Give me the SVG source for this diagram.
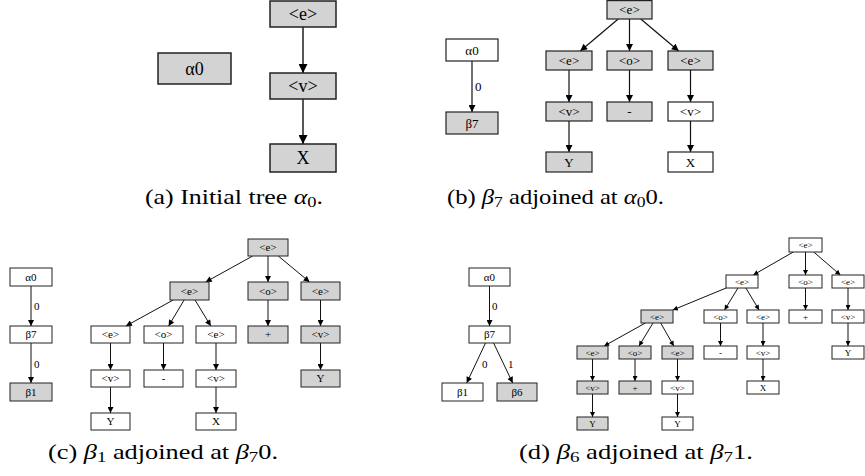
<svg xmlns="http://www.w3.org/2000/svg" width="865" height="476" viewBox="0 0 865 476">
<style>
rect{stroke:#222}
.g{fill:#d3d3d3}
.w{fill:#fff}
.sa rect{stroke-width:1.5}
.sb rect{stroke-width:1.2}
.sc rect,.sd rect{stroke-width:1}
text{font-family:"Liberation Serif","Times New Roman",serif;fill:#000;text-anchor:middle}
.ta{font-size:18px}
.tb{font-size:13px}
.tc{font-size:11px}
.td{font-size:9px}
.lbl{text-anchor:start}
.cap{font-size:21px;text-anchor:start}
.e line{stroke:#111;fill:none}
.ea line{stroke-width:1.4;marker-end:url(#ma)}
.eb line{stroke-width:1.2;marker-end:url(#mb)}
.ec line{stroke-width:1;marker-end:url(#mc)}
.ed line{stroke-width:1;marker-end:url(#md)}
</style>
<defs>
<marker id="ma" viewBox="0 0 10 10" refX="10" refY="5" markerUnits="userSpaceOnUse" markerWidth="12" markerHeight="9" orient="auto"><path d="M0,0L10,5L0,10z" fill="#000"/></marker>
<marker id="mb" viewBox="0 0 10 10" refX="10" refY="5" markerUnits="userSpaceOnUse" markerWidth="10" markerHeight="7" orient="auto"><path d="M0,0L10,5L0,10z" fill="#000"/></marker>
<marker id="mc" viewBox="0 0 10 10" refX="10" refY="5" markerUnits="userSpaceOnUse" markerWidth="8" markerHeight="6" orient="auto"><path d="M0,0L10,5L0,10z" fill="#000"/></marker>
<marker id="md" viewBox="0 0 10 10" refX="10" refY="5" markerUnits="userSpaceOnUse" markerWidth="6.5" markerHeight="5" orient="auto"><path d="M0,0L10,5L0,10z" fill="#000"/></marker>
</defs>

<!-- connectors -->
<g id="connectors" class="e">
 <g class="ea">
  <line x1="303" y1="27" x2="303" y2="73"/>
  <line x1="303" y1="99" x2="303" y2="144"/>
 </g>
 <g class="eb">
  <line x1="472" y1="61" x2="472" y2="112"/>
  <line x1="618.2" y1="19" x2="580.3" y2="51"/>
  <line x1="629.5" y1="19" x2="629.5" y2="51"/>
  <line x1="640.8" y1="19" x2="678.7" y2="51"/>
  <line x1="569" y1="70" x2="569" y2="102"/>
  <line x1="569" y1="121" x2="569" y2="152"/>
  <line x1="629.5" y1="70" x2="629.5" y2="102"/>
  <line x1="690.5" y1="70" x2="690.5" y2="102"/>
  <line x1="690.5" y1="121" x2="690.5" y2="152"/>
 </g>
 <g class="ec">
  <line x1="31" y1="286" x2="31" y2="326"/>
  <line x1="31" y1="343" x2="31" y2="383"/>
  <line x1="252.7" y1="256" x2="205.7" y2="282"/>
  <line x1="268" y1="256" x2="268" y2="282"/>
  <line x1="278.3" y1="256" x2="309.6" y2="282"/>
  <line x1="268" y1="300" x2="268" y2="326"/>
  <line x1="320.5" y1="300" x2="320.5" y2="326"/>
  <line x1="320.5" y1="343" x2="320.5" y2="370"/>
  <line x1="173.2" y1="300" x2="125.9" y2="326"/>
  <line x1="184.1" y1="300" x2="168.6" y2="326"/>
  <line x1="195" y1="300" x2="210.8" y2="326"/>
  <line x1="110.5" y1="343" x2="110.5" y2="370"/>
  <line x1="110.5" y1="387" x2="110.5" y2="413"/>
  <line x1="163.5" y1="343" x2="163.5" y2="370"/>
  <line x1="216" y1="343" x2="216" y2="370"/>
  <line x1="216" y1="387" x2="216" y2="413"/>
  <line x1="489.5" y1="286" x2="489.5" y2="326"/>
  <line x1="485.5" y1="343" x2="466.7" y2="383"/>
  <line x1="493.6" y1="343" x2="512.7" y2="383"/>
 </g>
 <g class="ed">
  <line x1="793.3" y1="252" x2="753.3" y2="275"/>
  <line x1="805.5" y1="252" x2="805.5" y2="275"/>
  <line x1="813.7" y1="252" x2="840.4" y2="275"/>
  <line x1="726.2" y1="288" x2="672.8" y2="310"/>
  <line x1="738" y1="288" x2="724.5" y2="310"/>
  <line x1="745.9" y1="288" x2="759.1" y2="310"/>
  <line x1="805.5" y1="288" x2="805.5" y2="310"/>
  <line x1="848" y1="288" x2="848" y2="310"/>
  <line x1="848" y1="323" x2="848" y2="346"/>
  <line x1="720.5" y1="323" x2="720.5" y2="346"/>
  <line x1="763" y1="323" x2="763" y2="346"/>
  <line x1="763" y1="359" x2="763" y2="381"/>
  <line x1="645.4" y1="323" x2="604.1" y2="346"/>
  <line x1="653" y1="323" x2="639" y2="346"/>
  <line x1="660.7" y1="323" x2="673.8" y2="346"/>
  <line x1="592.5" y1="359" x2="592.5" y2="381"/>
  <line x1="592.5" y1="394" x2="592.5" y2="417"/>
  <line x1="635" y1="359" x2="635" y2="381"/>
  <line x1="677.5" y1="359" x2="677.5" y2="381"/>
  <line x1="677.5" y1="394" x2="677.5" y2="417"/>
 </g>
 <text class="tb lbl" x="475" y="91">0</text>
 <text class="tc lbl" x="34" y="310">0</text>
 <text class="tc lbl" x="34" y="368">0</text>
 <text class="tc lbl" x="492" y="310">0</text>
 <text class="tc lbl" x="482" y="368">0</text>
 <text class="tc lbl" x="508" y="368">1</text>
</g>

<!-- panel a -->
<g class="sa">
 <g id="a_alpha0"><rect class="g" x="158" y="53" width="73" height="31"/><text class="ta" x="194.5" y="74.8">α0</text></g>
 <g id="a_e"><rect class="g" x="270" y="1" width="66" height="26"/><text class="ta" x="303" y="20.3">&lt;e&gt;</text></g>
 <g id="a_v"><rect class="g" x="270" y="73" width="66" height="26"/><text class="ta" x="303" y="92.3">&lt;v&gt;</text></g>
 <g id="a_X"><rect class="g" x="270" y="144" width="66" height="28"/><text class="ta" x="303" y="164.3">X</text></g>
</g>

<!-- panel b -->
<g class="sb">
 <g id="b_alpha0"><rect class="w" x="446" y="39" width="52" height="22"/><text class="tb" x="472" y="54.5">α0</text></g>
 <g id="b_beta7"><rect class="g" x="446" y="112" width="52" height="22"/><text class="tb" x="472" y="127.5">β7</text></g>
 <g id="b_e0"><rect class="g" x="607" y="0.6" width="45" height="18.4"/><text class="tb" x="629.5" y="14.3">&lt;e&gt;</text></g>
 <g id="b_e1"><rect class="g" x="546" y="51" width="46" height="19"/><text class="tb" x="569" y="65">&lt;e&gt;</text></g>
 <g id="b_o1"><rect class="g" x="607" y="51" width="45" height="19"/><text class="tb" x="629.5" y="65">&lt;o&gt;</text></g>
 <g id="b_e2"><rect class="g" x="668" y="51" width="45" height="19"/><text class="tb" x="690.5" y="65">&lt;e&gt;</text></g>
 <g id="b_v1"><rect class="g" x="546" y="102" width="46" height="19"/><text class="tb" x="569" y="116">&lt;v&gt;</text></g>
 <g id="b_minus"><rect class="g" x="607" y="102" width="45" height="19"/><text class="tb" x="629.5" y="116">-</text></g>
 <g id="b_v2"><rect class="w" x="668" y="102" width="45" height="19"/><text class="tb" x="690.5" y="116">&lt;v&gt;</text></g>
 <g id="b_Y"><rect class="g" x="546" y="152" width="46" height="20"/><text class="tb" x="569" y="166.5">Y</text></g>
 <g id="b_X"><rect class="w" x="668" y="152" width="45" height="20"/><text class="tb" x="690.5" y="166.5">X</text></g>
</g>

<!-- panel c -->
<g class="sc">
 <g id="c_alpha0"><rect class="w" x="10" y="268" width="42" height="18"/><text class="tc" x="31" y="280.9">α0</text></g>
 <g id="c_beta7"><rect class="w" x="10" y="326" width="42" height="17"/><text class="tc" x="31" y="338.4">β7</text></g>
 <g id="c_beta1"><rect class="g" x="10" y="383" width="42" height="18"/><text class="tc" x="31" y="395.9">β1</text></g>
 <g id="c_root"><rect class="g" x="248" y="239" width="40" height="17"/><text class="tc" x="268" y="251.4">&lt;e&gt;</text></g>
 <g id="c_e1"><rect class="g" x="170" y="282" width="39" height="18"/><text class="tc" x="189.5" y="294.9">&lt;e&gt;</text></g>
 <g id="c_o1"><rect class="g" x="248" y="282" width="40" height="18"/><text class="tc" x="268" y="294.9">&lt;o&gt;</text></g>
 <g id="c_e2"><rect class="g" x="301" y="282" width="39" height="18"/><text class="tc" x="320.5" y="294.9">&lt;e&gt;</text></g>
 <g id="c_e11"><rect class="w" x="91" y="326" width="39" height="17"/><text class="tc" x="110.5" y="338.4">&lt;e&gt;</text></g>
 <g id="c_o11"><rect class="w" x="144" y="326" width="39" height="17"/><text class="tc" x="163.5" y="338.4">&lt;o&gt;</text></g>
 <g id="c_e12"><rect class="w" x="196" y="326" width="40" height="17"/><text class="tc" x="216" y="338.4">&lt;e&gt;</text></g>
 <g id="c_plus"><rect class="g" x="248" y="326" width="40" height="17"/><text class="tc" x="268" y="338.4">+</text></g>
 <g id="c_v2"><rect class="g" x="301" y="326" width="39" height="17"/><text class="tc" x="320.5" y="338.4">&lt;v&gt;</text></g>
 <g id="c_v11"><rect class="w" x="91" y="370" width="39" height="17"/><text class="tc" x="110.5" y="382.4">&lt;v&gt;</text></g>
 <g id="c_minus"><rect class="w" x="144" y="370" width="39" height="17"/><text class="tc" x="163.5" y="382.4">-</text></g>
 <g id="c_v12"><rect class="w" x="196" y="370" width="40" height="17"/><text class="tc" x="216" y="382.4">&lt;v&gt;</text></g>
 <g id="c_Y2"><rect class="g" x="301" y="370" width="39" height="17"/><text class="tc" x="320.5" y="382.4">Y</text></g>
 <g id="c_Y1"><rect class="w" x="91" y="413" width="39" height="17"/><text class="tc" x="110.5" y="425.4">Y</text></g>
 <g id="c_X"><rect class="w" x="196" y="413" width="40" height="17"/><text class="tc" x="216" y="425.4">X</text></g>
</g>

<!-- panel d -->
<g class="sd">
 <g id="d_alpha0"><rect class="w" x="469" y="268" width="41" height="18"/><text class="tc" x="489.5" y="280.9">α0</text></g>
 <g id="d_beta7"><rect class="w" x="469" y="326" width="41" height="17"/><text class="tc" x="489.5" y="338.4">β7</text></g>
 <g id="d_beta1"><rect class="w" x="442" y="383" width="41" height="18"/><text class="tc" x="462.5" y="395.9">β1</text></g>
 <g id="d_beta6"><rect class="g" x="497" y="383" width="40" height="18"/><text class="tc" x="517" y="395.9">β6</text></g>

 <g id="d_root"><rect class="w" x="789" y="238" width="33" height="14"/><text class="td" x="805.5" y="248.2">&lt;e&gt;</text></g>
 <g id="d_e1"><rect class="w" x="726" y="275" width="32" height="13"/><text class="td" x="742" y="284.7">&lt;e&gt;</text></g>
 <g id="d_o1"><rect class="w" x="789" y="275" width="33" height="13"/><text class="td" x="805.5" y="284.7">&lt;o&gt;</text></g>
 <g id="d_e2"><rect class="w" x="832" y="275" width="32" height="13"/><text class="td" x="848" y="284.7">&lt;e&gt;</text></g>
 <g id="d_eg"><rect class="g" x="641" y="310" width="32" height="13"/><text class="td" x="657" y="319.7">&lt;e&gt;</text></g>
 <g id="d_o11"><rect class="w" x="704" y="310" width="33" height="13"/><text class="td" x="720.5" y="319.7">&lt;o&gt;</text></g>
 <g id="d_e12"><rect class="w" x="747" y="310" width="32" height="13"/><text class="td" x="763" y="319.7">&lt;e&gt;</text></g>
 <g id="d_plus1"><rect class="w" x="789" y="310" width="33" height="13"/><text class="td" x="805.5" y="319.7">+</text></g>
 <g id="d_v2"><rect class="w" x="832" y="310" width="32" height="13"/><text class="td" x="848" y="319.7">&lt;v&gt;</text></g>
 <g id="d_eg1"><rect class="g" x="577" y="346" width="31" height="13"/><text class="td" x="592.5" y="355.7">&lt;e&gt;</text></g>
 <g id="d_og"><rect class="g" x="619" y="346" width="32" height="13"/><text class="td" x="635" y="355.7">&lt;o&gt;</text></g>
 <g id="d_eg2"><rect class="g" x="662" y="346" width="31" height="13"/><text class="td" x="677.5" y="355.7">&lt;e&gt;</text></g>
 <g id="d_minus"><rect class="w" x="704" y="346" width="33" height="13"/><text class="td" x="720.5" y="355.7">-</text></g>
 <g id="d_v12"><rect class="w" x="747" y="346" width="32" height="13"/><text class="td" x="763" y="355.7">&lt;v&gt;</text></g>
 <g id="d_Y2"><rect class="w" x="832" y="346" width="32" height="13"/><text class="td" x="848" y="355.7">Y</text></g>
 <g id="d_vg1"><rect class="g" x="577" y="381" width="31" height="13"/><text class="td" x="592.5" y="390.7">&lt;v&gt;</text></g>
 <g id="d_plusg"><rect class="g" x="619" y="381" width="32" height="13"/><text class="td" x="635" y="390.7">+</text></g>
 <g id="d_v22"><rect class="w" x="662" y="381" width="31" height="13"/><text class="td" x="677.5" y="390.7">&lt;v&gt;</text></g>
 <g id="d_X"><rect class="w" x="747" y="381" width="32" height="13"/><text class="td" x="763" y="390.7">X</text></g>
 <g id="d_Yg"><rect class="g" x="577" y="417" width="31" height="13"/><text class="td" x="592.5" y="426.7">Y</text></g>
 <g id="d_Y3"><rect class="w" x="662" y="417" width="31" height="13"/><text class="td" x="677.5" y="426.7">Y</text></g>
</g>

<!-- captions -->
<text class="cap" x="145" y="204" textLength="178" lengthAdjust="spacingAndGlyphs">(a) Initial tree <tspan font-style="italic">α</tspan><tspan font-size="15" dy="3">0</tspan><tspan dy="-3">.</tspan></text>
<text class="cap" x="447" y="204" textLength="217" lengthAdjust="spacingAndGlyphs">(b) <tspan font-style="italic">β</tspan><tspan font-size="15" dy="3">7</tspan><tspan dy="-3"> adjoined at </tspan><tspan font-style="italic">α</tspan><tspan font-size="15" dy="3">0</tspan><tspan dy="-3">0.</tspan></text>
<text class="cap" x="48" y="459" textLength="230" lengthAdjust="spacingAndGlyphs">(c) <tspan font-style="italic">β</tspan><tspan font-size="15" dy="3">1</tspan><tspan dy="-3"> adjoined at </tspan><tspan font-style="italic">β</tspan><tspan font-size="15" dy="3">7</tspan><tspan dy="-3">0.</tspan></text>
<text class="cap" x="519" y="459" textLength="234" lengthAdjust="spacingAndGlyphs">(d) <tspan font-style="italic">β</tspan><tspan font-size="15" dy="3">6</tspan><tspan dy="-3"> adjoined at </tspan><tspan font-style="italic">β</tspan><tspan font-size="15" dy="3">7</tspan><tspan dy="-3">1.</tspan></text>
</svg>
